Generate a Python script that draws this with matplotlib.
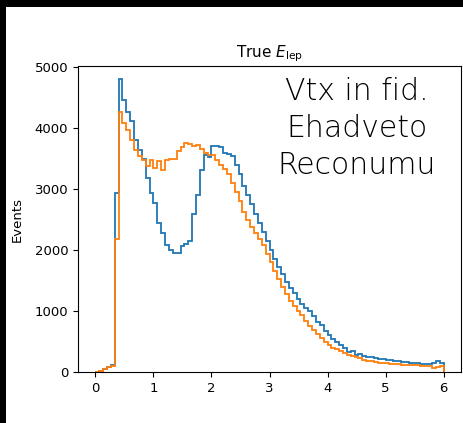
import numpy as np
import matplotlib
matplotlib.use('Agg')
import matplotlib.pyplot as plt
from matplotlib.patches import Rectangle

# bin edges: 90 bins from 0 to 6
edges = np.linspace(0, 6, 91)

blue = [5, 20, 50, 90, 110, 2940, 4800, 4460, 4270, 4120,
        3800, 3640, 3490, 3180, 2930, 2770, 2440, 2280, 2080, 2000,
        1950, 1950, 2060, 2100, 2150, 2600, 2900, 3310, 3560, 3520,
        3700, 3700, 3690, 3590, 3580, 3550, 3400, 3250, 3050, 2900,
        2750, 2600, 2450, 2300, 2150, 2000, 1850, 1720, 1600, 1480,
        1380, 1290, 1200, 1120, 1050, 1000, 920, 820, 770, 680,
        600, 540, 500, 440, 400, 330, 350, 280, 300, 260,
        250, 240, 230, 210, 220, 200, 190, 180, 185, 170,
        160, 155, 150, 140, 135, 130, 125, 140, 180, 140]

orange = [0, 20, 50, 90, 100, 2180, 4270, 4080, 3970, 3800,
          3640, 3550, 3480, 3380, 3470, 3350, 3460, 3320, 3480, 3500,
          3500, 3630, 3690, 3760, 3740, 3700, 3720, 3660, 3600, 3560,
          3560, 3480, 3400, 3330, 3250, 3100, 2950, 2800, 2620, 2500,
          2380, 2280, 2180, 2080, 1940, 1800, 1650, 1520, 1400, 1280,
          1170, 1080, 1000, 930, 830, 750, 690, 620, 550, 500,
          440, 400, 370, 340, 310, 280, 260, 240, 225, 200,
          185, 175, 165, 155, 150, 140, 135, 130, 130, 120,
          118, 115, 110, 110, 105, 100, 95, 65, 90, 95]

xticks = [0, 1, 2, 3, 4, 5, 6]
yticks = [0, 1000, 2000, 3000, 4000, 5000]

fig = plt.figure(figsize=(4.64, 4.23), dpi=100)
fig.patch.set_facecolor('black')
fig.add_artist(Rectangle((6/464, 0), 1, 1 - 7/423, transform=fig.transFigure,
                         facecolor='white', edgecolor='none', zorder=-10))

ax = fig.add_axes([78/464, 1 - 372/423, (461-78)/464, (372-66)/423])
ax.stairs(blue, edges, color='C0', linewidth=1.3)
ax.stairs(orange, edges, color='C1', linewidth=1.3)
ax.set_xlim(-0.3, 6.3)
ax.set_ylim(0, 5020)
ax.set_xticks(xticks)
ax.set_yticks(yticks)
ax.tick_params(labelsize=9.5)
ax.set_title('True $E_{\\rm lep}$', fontsize=11)
ax.set_ylabel('Events', fontsize=9.5)
ax.yaxis.set_label_coords(-0.142, 0.5)

ax.text(0.728, 0.965, 'Vtx in fid.\nEhadveto\nReconumu', transform=ax.transAxes,
        ha='center', va='top', multialignment='center', fontsize=21.5,
        family='DejaVu Sans', fontweight='light', color='black', linespacing=1.36)

fig.savefig('out.png', dpi=100, facecolor=fig.get_facecolor())
